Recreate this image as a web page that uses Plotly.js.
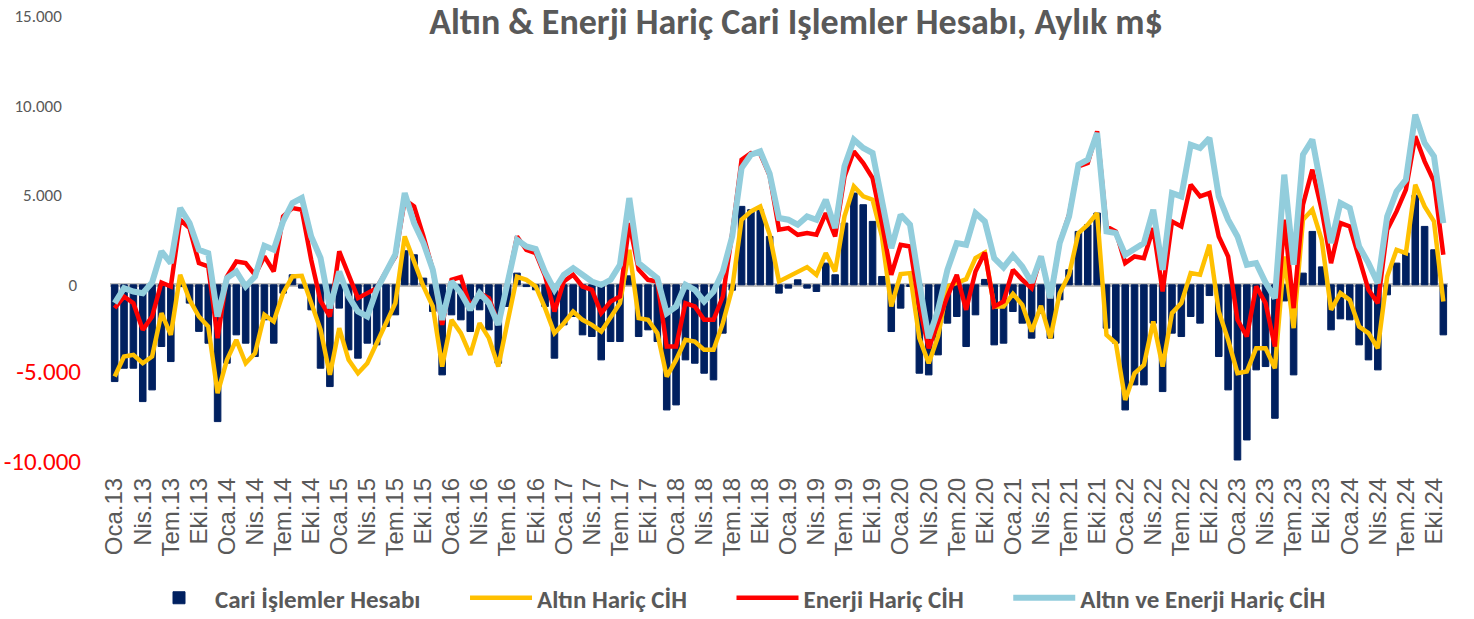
<!DOCTYPE html>
<html>
<head>
<meta charset="utf-8">
<script src="https://cdn.plot.ly/plotly-3.0.1.min.js"></script>
<style>
  html, body { margin: 0; padding: 0; background: #ffffff; }
  #chart { width: 1474px; height: 619px; }
</style>
</head>
<body>
<div id="chart"></div>
<script>
// Months (categories)
const months = [
"Oca.13","Şub.13","Mar.13","Nis.13","May.13","Haz.13","Tem.13","Ağu.13","Eyl.13","Eki.13","Kas.13","Ara.13",
"Oca.14","Şub.14","Mar.14","Nis.14","May.14","Haz.14","Tem.14","Ağu.14","Eyl.14","Eki.14","Kas.14","Ara.14",
"Oca.15","Şub.15","Mar.15","Nis.15","May.15","Haz.15","Tem.15","Ağu.15","Eyl.15","Eki.15","Kas.15","Ara.15",
"Oca.16","Şub.16","Mar.16","Nis.16","May.16","Haz.16","Tem.16","Ağu.16","Eyl.16","Eki.16","Kas.16","Ara.16",
"Oca.17","Şub.17","Mar.17","Nis.17","May.17","Haz.17","Tem.17","Ağu.17","Eyl.17","Eki.17","Kas.17","Ara.17",
"Oca.18","Şub.18","Mar.18","Nis.18","May.18","Haz.18","Tem.18","Ağu.18","Eyl.18","Eki.18","Kas.18","Ara.18",
"Oca.19","Şub.19","Mar.19","Nis.19","May.19","Haz.19","Tem.19","Ağu.19","Eyl.19","Eki.19","Kas.19","Ara.19",
"Oca.20","Şub.20","Mar.20","Nis.20","May.20","Haz.20","Tem.20","Ağu.20","Eyl.20","Eki.20","Kas.20","Ara.20",
"Oca.21","Şub.21","Mar.21","Nis.21","May.21","Haz.21","Tem.21","Ağu.21","Eyl.21","Eki.21","Kas.21","Ara.21",
"Oca.22","Şub.22","Mar.22","Nis.22","May.22","Haz.22","Tem.22","Ağu.22","Eyl.22","Eki.22","Kas.22","Ara.22",
"Oca.23","Şub.23","Mar.23","Nis.23","May.23","Haz.23","Tem.23","Ağu.23","Eyl.23","Eki.23","Kas.23","Ara.23",
"Oca.24","Şub.24","Mar.24","Nis.24","May.24","Haz.24","Tem.24","Ağu.24","Eyl.24","Eki.24","Kas.24"
];

// Axis tick labels shown (every third month)
const xTickLabels = [
"Oca.13","Nis.13","Tem.13","Eki.13","Oca.14","Nis.14","Tem.14","Eki.14","Oca.15","Nis.15","Tem.15","Eki.15",
"Oca.16","Nis.16","Tem.16","Eki.16","Oca.17","Nis.17","Tem.17","Eki.17","Oca.18","Nis.18","Tem.18","Eki.18",
"Oca.19","Nis.19","Tem.19","Eki.19","Oca.20","Nis.20","Tem.20","Eki.20","Oca.21","Nis.21","Tem.21","Eki.21",
"Oca.22","Nis.22","Tem.22","Eki.22","Oca.23","Nis.23","Tem.23","Eki.23","Oca.24","Nis.24","Tem.24","Eki.24"
];

const yTickValues = [-10000, -5000, 0, 5000, 10000, 15000];
const yTickLabels = ["-10.000", "-5.000", "0", "5.000", "10.000", "15.000"];

// Cari İşlemler Hesabı (m$)
const cariIslemler = [
-5400,-4655,-4655,-6517,-5865,-3445,-4283,-100,-1020,-2600,-3260,-7634,
-4376,-2793,-3259,-4003,-1955,-3259,-466,559,-186,-1396,-4655,-5679,
-1300,-3631,-4096,-3259,-3350,-2328,-1676,1900,1676,372,-1490,-5027,
-1676,-1955,-2607,-1396,-2514,-4376,-1210,652,-100,-279,-1210,-4096,
-2234,-1769,-2793,-2886,-4190,-3165,-3165,500,-2886,-2514,-3165,-6983,
-6703,-4190,-4376,-4934,-5307,-2700,-300,4376,4190,4190,2700,-465,
-186,279,-186,-372,1210,559,3445,5120,4469,3538,465,-2607,
-1303,-93,-4934,-5027,-3910,-2141,-1769,-3445,-1676,300,-3352,-3259,
-1490,-2141,-2979,-1583,-2979,-838,838,2979,3352,4003,-2420,-3259,
-6983,-5586,-5586,-2141,-5958,-2700,-2886,-1769,-2141,-600,-4003,-5865,
-9775,-8658,-4748,-4562,-7448,-900,-5027,652,2979,1000,-2514,-1900,
-1955,-3352,-4190,-4748,-559,1210,1769,5000,3258,1955,-2793
];

// Altın Hariç CİH
const altinHaric = [
-5120,-4003,-3910,-4376,-4003,-1583,-2793,559,-838,-1769,-2328,-6052,
-4190,-3072,-4376,-3817,-1676,-2048,-466,466,503,-1024,-2500,-5027,
-2420,-4190,-4934,-4376,-3259,-2141,-1024,2700,1210,-93,-1210,-4562,
-1955,-2700,-3910,-2141,-2979,-4562,-2048,450,279,-93,-1300,-2700,
-2141,-1490,-1955,-2234,-2607,-1769,-1024,1955,-1862,-1955,-2700,-5120,
-4190,-3072,-3165,-3631,-3631,-2141,-200,3631,4096,4376,2800,186,
465,745,987,559,1769,745,3817,5493,4934,4748,2700,-1210,
596,652,-2979,-4376,-2886,-93,93,316,1490,1800,-1210,-1210,
-503,-1117,-2607,-1173,-2979,-465,559,2886,3352,4003,-2793,-3259,
-6424,-4934,-4469,-2048,-4562,-1583,-1024,652,559,2234,-1490,-3072,
-4934,-4841,-3538,-3538,-4655,1583,-2420,3631,4190,2514,-1396,-465,
-838,-2328,-2700,-3538,465,1955,1769,5586,4376,3538,-931
];

// Enerji Hariç CİH
const enerjiHaric = [
-1303,-652,-1024,-2514,-1769,130,-93,3631,3165,1210,1024,-2979,
465,1303,1210,559,1583,745,3817,4283,4190,1397,-900,-1769,
1862,600,-745,-465,-186,745,1583,4748,4376,2700,838,-2234,
279,428,-1210,-465,-745,-2141,93,2700,1955,1769,500,-1490,
186,559,-93,-279,-1583,-931,-652,3445,838,279,186,-3445,
-3445,-1024,-1210,-1955,-1955,-652,2886,6983,7355,7300,6100,3072,
3165,2793,2886,2793,4003,2700,6052,7448,6796,5958,3445,559,
2234,2141,-1210,-3538,-2141,-652,559,-1396,745,1800,-1210,-931,
838,279,-186,1583,-745,2328,3910,6610,6796,8565,3258,2979,
1210,1583,1490,3165,-372,3538,3258,5586,4934,5120,2700,1583,
-1955,-2886,-93,-1024,-3445,3631,-1303,4469,6424,4190,1210,3445,
3258,1490,-279,-1024,3072,4096,5307,8286,6889,5772,1676
];

// Altın ve Enerji Hariç CİH
const altinEnerjiHaric = [
-1024,-186,-372,-465,130,1862,1210,4283,3445,1955,1769,-1769,
372,745,-93,465,2178,1955,3538,4562,4841,2700,1500,-1303,
745,-652,-1490,-1769,-280,700,1700,5120,3445,2328,838,-1955,
186,-465,-1396,-465,-1024,-2234,93,2514,2141,1992,700,-279,
559,931,559,186,0,279,1117,4841,1210,745,372,-1583,
-1210,0,-279,-931,-372,745,2700,6517,7262,7448,6200,3724,
3631,3352,3817,3631,4748,3165,6610,8100,7634,7355,4655,2048,
3910,3352,93,-2979,-1396,838,2328,2234,4003,3538,1490,968,
1639,1024,130,1583,-745,2328,3817,6703,6983,8472,2979,2886,
1676,2048,2328,4190,838,5120,4934,7820,7634,8193,4934,3631,
2700,1117,1210,130,-745,6145,1117,7262,8100,5307,2328,4562,
4283,2141,1210,93,3817,5213,5865,9496,7914,7169,3445
];

const FONT_MAIN = "Carlito, Calibri, Lato, 'Noto Sans', sans-serif";
const GREY = "#595959";
const PAD = "\u00a0\u00a0\u00a0\u00a0\u00a0\u00a0\u00a0";

const traces = [
  {
    type: "bar", name: "Cari İşlemler Hesabı" + PAD, x: months, y: cariIslemler,
    marker: { color: "#002060", line: { color: "#002060", width: 1 } },
    hoverinfo: "x+y"
  },
  {
    type: "scatter", mode: "lines", name: "Altın Hariç CİH" + PAD, x: months, y: altinHaric,
    line: { color: "#FFC000", width: 4.5 }
  },
  {
    type: "scatter", mode: "lines", name: "Enerji Hariç CİH" + PAD, x: months, y: enerjiHaric,
    line: { color: "#FF0000", width: 4.5 }
  },
  {
    type: "scatter", mode: "lines", name: "Altın ve Enerji Hariç CİH", x: months, y: altinEnerjiHaric,
    line: { color: "#92CDDC", width: 6 }
  }
];

const yText = yTickLabels.map((t, k) => {
  const v = yTickValues[k];
  if (v < 0) return '<span style="color:#FF0000;font-size:25px">' + t + '</span>';
  if (v === 0) return t + '\u00a0';
  return t + '\u00a0\u00a0\u00a0\u00a0\u00a0';
});

const layout = {
  width: 1474, height: 619,
  paper_bgcolor: "#ffffff", plot_bgcolor: "#ffffff",
  margin: { l: 110, r: 26, t: 16, b: 155 },
  bargap: 0.3,
  showlegend: true,
  title: {
    text: "Altın & Enerji Hariç Cari Işlemler Hesabı, Aylık m$",
    font: { family: FONT_MAIN, size: 36, color: GREY, weight: "bold" },
    x: 796 / 1474, xanchor: "center", xref: "container",
    y: 1 - 21 / 619, yanchor: "middle", yref: "container"
  },
  xaxis: {
    type: "category",
    range: [-0.5, months.length - 0.5],
    tickmode: "array", tickvals: xTickLabels, ticktext: xTickLabels,
    tickangle: -90, ticks: "", showgrid: false, zeroline: false, showline: false,
    ticklabelstandoff: 8,
    tickfont: { family: "'Liberation Sans', Arial, sans-serif", size: 24, color: GREY },
    automargin: false
  },
  yaxis: {
    range: [-10000, 15000],
    tickmode: "array", tickvals: yTickValues, ticktext: yText,
    showgrid: false, zeroline: true, zerolinecolor: "#BFBFBF", zerolinewidth: 4,
    showline: false, ticks: "", ticklabelstandoff: 28,
    tickfont: { family: FONT_MAIN, size: 17, color: GREY },
    automargin: false
  },
  shapes: [
    { type: "line", xref: "paper", yref: "y", x0: 0, x1: 1, y0: 0, y1: 0,
      line: { color: "#8497B0", width: 1, dash: "dash" }, layer: "below" }
  ],
  legend: {
    orientation: "h", x: 0.5, xanchor: "center", xref: "container",
    y: 1 - 598 / 619, yanchor: "middle", yref: "container",
    font: { family: FONT_MAIN, size: 25, color: GREY, weight: "bold" },
    itemwidth: 62, traceorder: "normal"
  }
};

Plotly.newPlot("chart", traces, layout, { displayModeBar: false, staticPlot: true });
</script>
</body>
</html>
